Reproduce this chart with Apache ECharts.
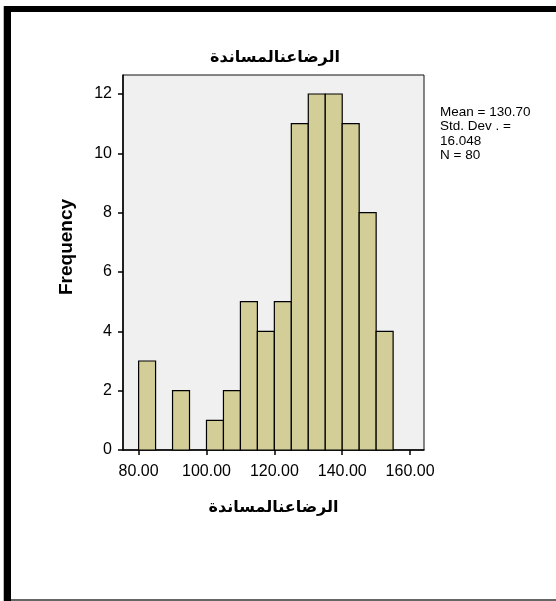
<!DOCTYPE html>
<html>
<head>
<meta charset="utf-8">
<script src="https://cdn.jsdelivr.net/npm/echarts@6/dist/echarts.min.js"></script>
<style>
html,body{margin:0;padding:0;background:#fff;}
#c{width:556px;height:601px;}
</style>
</head>
<body>
<div id="c"></div>
<script>
// Data
const titleText = 'الرضاعنالمساندة';
const binStarts = [80, 85, 90, 95, 100, 105, 110, 115, 120, 125, 130, 135, 140, 145, 150];
const binEnds   = [85, 90, 95, 100, 105, 110, 115, 120, 125, 130, 135, 140, 145, 150, 155];
const frequencies = [3, 0, 2, 0, 1, 2, 5, 4, 5, 11, 12, 12, 11, 8, 4];
const xTicks = [80, 100, 120, 140, 160];
const yTicks = [0, 2, 4, 6, 8, 10, 12];
const statsLines = ['Mean = 130.70', 'Std. Dev . =', '16.048', 'N = 80'];

const barData = [];
for (let i = 0; i < binStarts.length; i++) {
  if (frequencies[i] > 0) barData.push([binStarts[i], binEnds[i], frequencies[i]]);
}

const chart = echarts.init(document.getElementById('c'), null, {renderer: 'canvas'});
const axisFont = {fontFamily: '"Liberation Sans", Arial, sans-serif', fontSize: 16, color: '#000'};

chart.setOption({
  animation: false,
  backgroundColor: '#fff',
  grid: {
    left: 123, top: 75, right: 132, bottom: 151,
    show: true, backgroundColor: '#f0f0f0', borderColor: '#111', borderWidth: 1
  },
  xAxis: {
    type: 'value', min: 75.4, max: 164.1,
    name: titleText, nameLocation: 'middle', nameGap: 50,
    nameTextStyle: {fontFamily: '"DejaVu Sans", sans-serif', fontWeight: 'bold', fontSize: 16, color: '#000'},
    axisLine: {show: true, onZero: false, lineStyle: {color: '#000', width: 1.5}},
    axisTick: {show: true, length: 5, customValues: xTicks, lineStyle: {color: '#000', width: 1.5}},
    axisLabel: Object.assign({customValues: xTicks, margin: 14, formatter: v => v.toFixed(2)}, axisFont),
    splitLine: {show: false}
  },
  yAxis: {
    type: 'value', min: 0, max: 12.64,
    axisLine: {show: true, lineStyle: {color: '#000', width: 1.5}},
    axisTick: {show: true, length: 5, customValues: yTicks, lineStyle: {color: '#000', width: 1.5}},
    axisLabel: Object.assign({customValues: yTicks, margin: 11}, axisFont),
    splitLine: {show: false}
  },
  series: [{
    type: 'custom',
    data: barData,
    encode: {x: [0, 1], y: 2},
    renderItem: function (params, api) {
      const p0 = api.coord([api.value(0), api.value(2)]);
      const p1 = api.coord([api.value(1), 0]);
      return {
        type: 'rect',
        shape: {x: p0[0], y: p0[1], width: p1[0] - p0[0], height: p1[1] - p0[1]},
        style: {fill: '#d3ce97', stroke: '#000', lineWidth: 1.2}
      };
    }
  }],
  graphic: [
    {type: 'rect', shape: {x: 3, y: 6, width: 1, height: 595}, style: {fill: '#bbb'}, silent: true},
    {type: 'rect', shape: {x: 4, y: 6, width: 7, height: 595}, style: {fill: '#000'}, silent: true},
    {type: 'rect', shape: {x: 4, y: 6, width: 552, height: 6}, style: {fill: '#000'}, silent: true},
    {type: 'rect', shape: {x: 11, y: 599, width: 545, height: 2}, style: {fill: '#666'}, silent: true},
    {type: 'text', x: 275, y: 58, style: {text: titleText, fill: '#000', font: 'bold 16px "DejaVu Sans", sans-serif', textAlign: 'center', textVerticalAlign: 'middle'}},
    {type: 'text', x: 67, y: 247, rotation: Math.PI / 2, style: {text: 'Frequency', fill: '#000', font: 'bold 19px "Liberation Sans", Arial, sans-serif', textAlign: 'center', textVerticalAlign: 'middle'}},
    {type: 'text', x: 440, y: 105, style: {text: statsLines.join('\n'), fill: '#000', font: '13.5px "Liberation Sans", Arial, sans-serif', lineHeight: 14.5, textAlign: 'left', textVerticalAlign: 'top'}}
  ]
});
</script>
</body>
</html>
